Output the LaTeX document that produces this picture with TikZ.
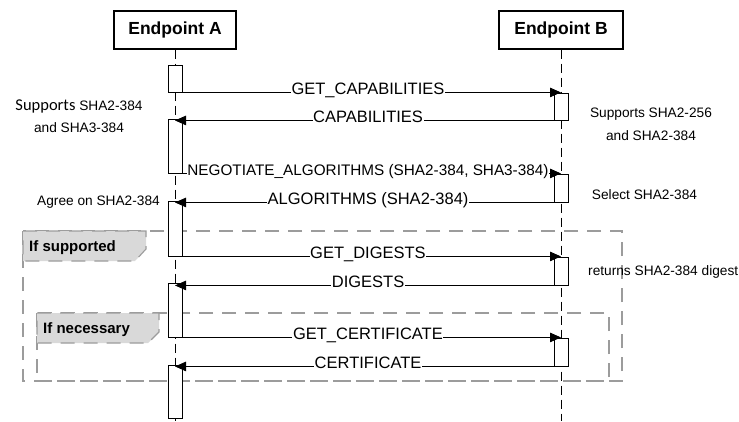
\documentclass[tikz,border=0pt]{standalone}
\usepackage{fontspec}
\setmainfont{Liberation Sans}
\newfontfamily\calibrifont{Carlito}
\usetikzlibrary{arrows.meta}

\definecolor{framegray}{HTML}{9C9C9C}
\definecolor{tabgray}{HTML}{D9D9D9}

\begin{document}
\begin{tikzpicture}[x=1pt,y=-1pt,
  actor/.style={draw, line width=1.1pt, minimum height=38pt, inner sep=0pt,
    font=\fontsize{17.5}{20}\selectfont\bfseries},
  lifeline/.style={line width=1pt, dash pattern=on 9pt off 5pt},
  act/.style={draw, fill=white, line width=0.9pt, minimum width=14pt, inner sep=0pt},
  msg/.style={line width=0.9pt, -{Triangle[length=11pt,width=9.5pt]}},
  lbl/.style={fill=white, inner sep=0.6pt, text height=0.72em, text depth=0.2em,
    yshift=1pt, font=\fontsize{16.5}{18}\selectfont},
  note/.style={inner sep=0pt, align=center, font=\fontsize{13.7}{23}\selectfont},
  frame/.style={draw=framegray, line width=1.1pt, dash pattern=on 14pt off 9pt},
  tabtext/.style={inner sep=0pt, anchor=west, font=\fontsize{15}{17}\selectfont\bfseries}
]
\useasboundingbox (0,0) rectangle (739,421);

% combined fragments
\draw[frame] (23,231) rectangle (622,381);
\draw[frame] (37,313) rectangle (609,381);
\draw[frame, fill=tabgray] (23,231) -- (146,231) -- (146,249) -- (135,261) -- (23,261) -- cycle;
\draw[frame, fill=tabgray] (37,313) -- (159,313) -- (159,332) -- (148,343) -- (37,343) -- cycle;
\node[tabtext] (optA) at (29,247.5) {If supported};
\node[tabtext] (optB) at (43,329.5) {If necessary};

% participants and lifelines
\node[actor, minimum width=122pt] (A) at (175,30) {Endpoint A};
\node[actor, minimum width=124pt] (B) at (561,30) {Endpoint B};
\coordinate (Aend) at (175,421);
\coordinate (Bend) at (561,421);
\draw[lifeline] (A.south) -- (Aend);
\draw[lifeline] (B.south) -- (Bend);

% activation bars
\node[act, minimum height=27pt] (a1) at (175,78.5) {};
\node[act, minimum height=54pt] (a2) at (175,146) {};
\node[act, minimum height=55pt] (a3) at (175,228.5) {};
\node[act, minimum height=54pt] (a4) at (175,310) {};
\node[act, minimum height=53pt] (a5) at (175,391.5) {};
\node[act, minimum height=27pt] (b1) at (561,106.5) {};
\node[act, minimum height=28pt] (b2) at (561,188) {};
\node[act, minimum height=28pt] (b3) at (561,271) {};
\node[act, minimum height=28pt] (b4) at (561,352) {};

% messages
\draw[msg] (a1.south east) -- (a1.south east -| b1.north)
  node[lbl, pos=0.49] (m1) {GET\_CAPABILITIES};
\draw[msg] (b1.south west) -- (b1.south west -| a2.north)
  node[lbl, pos=0.49] (m2) {CAPABILITIES};
\draw[msg] (a2.south east) -- (a2.south east -| b2.north)
  node[lbl, pos=0.49, font=\fontsize{15.3}{18}\selectfont] (m3) {NEGOTIATE\_ALGORITHMS (SHA2-384, SHA3-384)};
\draw[msg] (b2.south west) -- (b2.south west -| a3.north)
  node[lbl, pos=0.49] (m4) {ALGORITHMS (SHA2-384)};
\draw[msg] (a3.south east) -- (a3.south east -| b3.north)
  node[lbl, pos=0.49] (m5) {GET\_DIGESTS};
\draw[msg] (b3.south west) -- (b3.south west -| a4.north)
  node[lbl, pos=0.49] (m6) {DIGESTS};
\draw[msg] (a4.south east) -- (a4.south east -| b4.north)
  node[lbl, pos=0.49] (m7) {GET\_CERTIFICATE};
\draw[msg] (b4.south west) -- (b4.south west -| a5.north)
  node[lbl, pos=0.49] (m8) {CERTIFICATE};

% notes
\node[note, font=\fontsize{13.7}{22}\selectfont] (nA1) at (79,116)
  {{\calibrifont\fontsize{16.5}{22}\selectfont Supports} SHA2-384\\and SHA3-384};
\node[note] (nB1) at (651,124.5) {Supports SHA2-256\\and SHA2-384};
\node[note] (nB2) at (644.5,195) {Select SHA2-384};
\node[note] (nA2) at (98.5,202) {Agree on SHA2-384};
\node[note, anchor=west] (nB3) at (588,272) {returns SHA2-384 digest};
\end{tikzpicture}
\end{document}
